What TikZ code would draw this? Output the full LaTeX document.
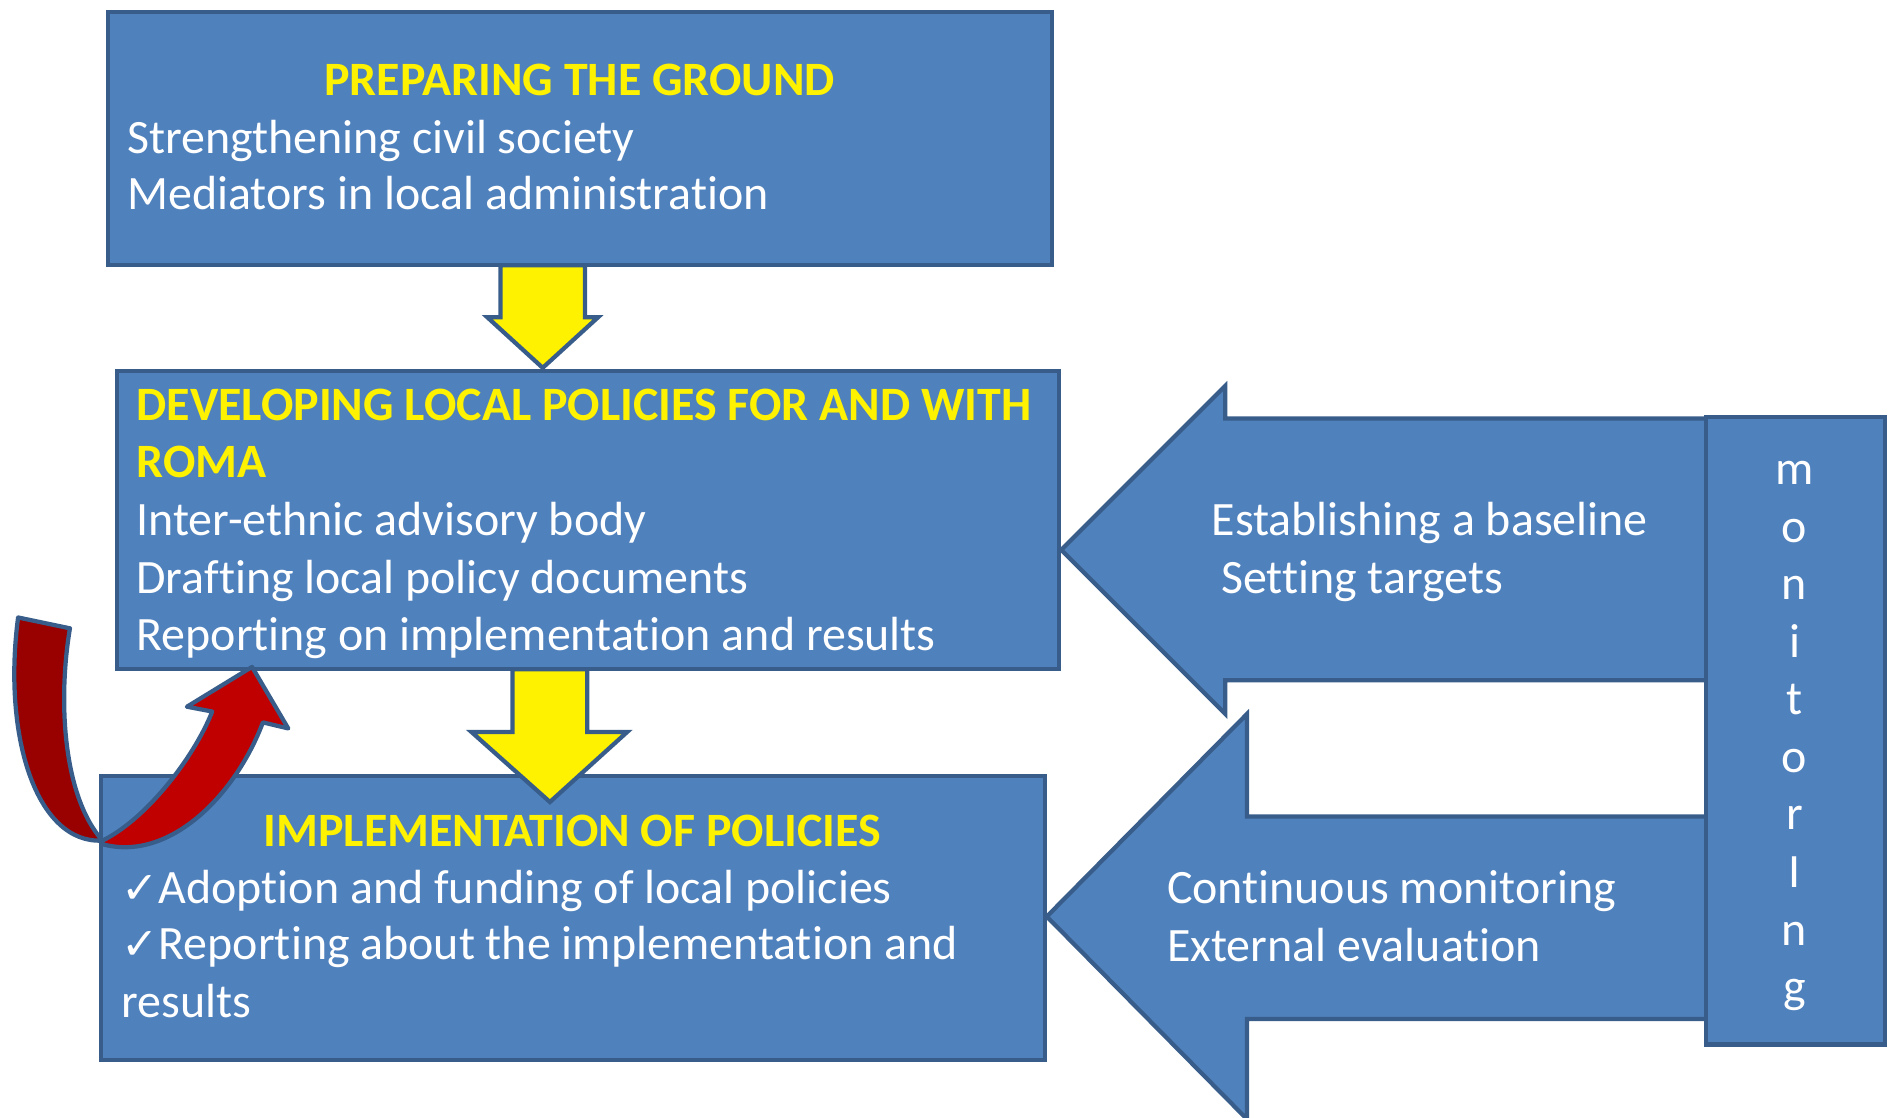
\documentclass[tikz,border=0pt]{standalone}
\usepackage{fontspec}
\setmainfont{Carlito}[Ligatures=NoCommon]
\newfontfamily\symfont{DejaVu Sans}
\definecolor{boxblue}{HTML}{4F81BD}
\definecolor{edgeblue}{HTML}{385D8A}
\definecolor{redfront}{HTML}{C00000}
\definecolor{redback}{HTML}{990000}
\tikzset{
  box/.style={draw=edgeblue, fill=boxblue, line width=1pt, inner sep=0pt, anchor=north west},
  blockarrow/.style={draw=edgeblue, fill=boxblue, line width=1pt},
  downarrow/.style={draw=edgeblue, fill=yellow, line width=1pt},
  turnarrow/.style={draw=edgeblue, line width=1pt, line join=round},
  txt/.style={text=white, inner sep=0pt, anchor=base west, font=\fontsize{11.3}{13.5}\selectfont},
  heading/.style={txt, text=yellow, font=\fontsize{11.3}{13.5}\selectfont\bfseries},
}
\newcommand{\tick}{{\symfont\fontsize{10.5}{12}\selectfont ✓}}
\begin{document}
\begin{tikzpicture}[x=0.01cm, y=-0.01cm]
	\useasboundingbox (0,0) rectangle (1568,927);
	% arrows coming out of the monitoring column
	\draw[blockarrow] (1420,347) -- (1016,347) -- (1016,320) -- (880,456) -- (1016,592) -- (1016,564) -- (1420,564) -- cycle;
	\draw[blockarrow] (1420,677) -- (1034,677) -- (1034,592) -- (868,760) -- (1034,928) -- (1034,845) -- (1420,845) -- cycle;
	\node[box, minimum width=1.48cm, minimum height=5.20cm] (mon) at (1413,344) {};
	\foreach \ch [count=\i] in {m,o,n,i,t,o,r,I,n,g}
		\node[txt, anchor=base] (mon\i) at (1488,{402+47.7*(\i-1)}) {\ch};
	% the three stages
	\node[box, minimum width=7.82cm, minimum height=2.10cm] (prep) at (88,8) {};
	\node[box, minimum width=7.81cm, minimum height=2.47cm] (dev) at (95,306) {};
	\node[box, minimum width=7.82cm, minimum height=2.35cm] (impl) at (82,642) {};
	\draw[downarrow] (415,220) -- (485,220) -- (485,263) -- (496,263) -- (450,305) -- (404,263) -- (415,263) -- cycle;
	\draw[downarrow] (425,555) -- (487,555) -- (487,607) -- (520,607) -- (456,665) -- (391,607) -- (425,607) -- cycle;
	\node[heading, anchor=base] (prepT) at (480.5,79.5) {PREPARING THE GROUND};
	\node[txt] (prep1) at (105,127) {Strengthening civil society};
	\node[txt] (prep2) at (105,174) {Mediators in local administration};
	\node[heading] (devT1) at (112.5,348.5) {DEVELOPING LOCAL POLICIES FOR AND WITH};
	\node[heading] (devT2) at (112.5,396) {ROMA};
	\node[txt] (dev1) at (112.5,444) {Inter-ethnic advisory body};
	\node[txt] (dev2) at (112.5,492) {Drafting local policy documents};
	\node[txt] (dev3) at (112.5,539) {Reporting on implementation and results};
	\node[heading, anchor=base] (implT) at (474.5,701.5) {IMPLEMENTATION OF POLICIES};
	\node[txt] (impl1) at (100,749) {\tick Adoption and funding of local policies};
	\node[txt] (impl2) at (100,796) {\tick Reporting about the implementation and};
	\node[txt] (impl3) at (100,844) {results};
	\node[txt] (baseline) at (1004,444) {Establishing a baseline};
	\node[txt] (targets) at (1012,492) {Setting targets};
	\node[txt] (contmon) at (967,749) {Continuous monitoring};
	\node[txt] (exteval) at (967,797) {External evaluation};
	% turning arrow, back then front
	\draw[turnarrow, fill=redback] (15,512) -- (58,521) .. controls (48,580) and (52,660) .. (85,697) .. controls (30,700) and (2,610) .. (15,512) -- cycle;
	\draw[turnarrow, fill=redfront] (85,697) .. controls (120,680) and (160,630) .. (176,590) -- (155,586) -- (209,553) -- (239,604) -- (218,599) .. controls (195,660) and (140,715) .. (85,700) -- cycle;
\end{tikzpicture}
\end{document}
